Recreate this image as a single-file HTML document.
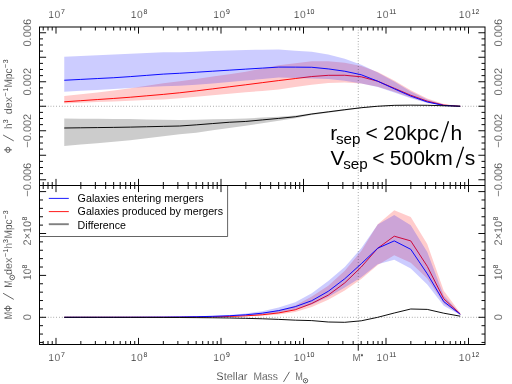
<!DOCTYPE html>
<html><head><meta charset="utf-8"><title>Merger mass functions</title>
<style>html,body{margin:0;padding:0;background:#fff;width:512px;height:384px;overflow:hidden}</style>
</head><body>
<svg width="512" height="384" viewBox="0 0 512 384" style="display:block;will-change:transform;font-family:'Liberation Sans',sans-serif">
<polygon points="64.25,96.00 80.75,94.19 97.25,92.39 113.75,90.58 130.25,88.32 146.75,85.78 163.25,83.23 179.75,81.18 196.25,79.03 212.75,76.60 229.25,74.17 245.75,71.66 262.25,68.45 278.75,65.24 295.25,63.19 311.75,61.24 328.25,61.20 344.75,62.77 361.25,66.12 377.75,72.10 394.25,80.54 410.75,90.36 427.25,98.57 443.75,104.09 460.25,106.30 460.25,106.30 443.75,105.61 427.25,102.48 410.75,97.53 394.25,91.80 377.75,86.74 361.25,83.58 344.75,82.52 328.25,82.97 311.75,84.69 295.25,87.09 278.75,89.41 262.25,90.88 245.75,92.34 229.25,93.79 212.75,95.23 196.25,96.68 179.75,98.18 163.25,99.48 146.75,100.12 130.25,100.76 113.75,101.43 97.25,102.12 80.75,102.81 64.25,103.50" fill="#ff0000" fill-opacity="0.2"/>
<polyline points="64.25,101.80 80.75,100.68 97.25,99.56 113.75,98.44 130.25,97.22 146.75,95.81 163.25,94.40 179.75,92.77 196.25,90.88 212.75,88.85 229.25,86.82 245.75,84.78 262.25,82.67 278.75,80.56 295.25,78.55 311.75,76.54 328.25,75.32 344.75,75.28 361.25,76.81 377.75,81.24 394.25,88.22 410.75,95.26 427.25,101.17 443.75,105.11 460.25,106.30" fill="none" stroke="#ff0000" stroke-width="0.95" stroke-linejoin="round"/>
<polygon points="64.25,56.75 80.75,56.01 97.25,55.27 113.75,54.53 130.25,53.77 146.75,53.00 163.25,52.22 179.75,52.29 196.25,51.72 212.75,51.12 229.25,50.53 245.75,49.98 262.25,49.75 278.75,49.52 295.25,50.63 311.75,51.85 328.25,54.61 344.75,58.86 361.25,64.72 377.75,72.54 394.25,81.45 410.75,91.44 427.25,99.50 443.75,104.55 460.25,106.30 460.25,106.30 443.75,105.81 427.25,103.04 410.75,98.30 394.25,92.44 377.75,87.07 361.25,83.55 344.75,80.73 328.25,79.02 311.75,78.44 295.25,77.95 278.75,77.61 262.25,79.10 245.75,80.59 229.25,82.00 212.75,83.40 196.25,84.80 179.75,85.67 163.25,86.17 146.75,87.10 130.25,88.02 113.75,88.95 97.25,89.89 80.75,90.82 64.25,91.75" fill="#0000ff" fill-opacity="0.2"/>
<polyline points="64.25,80.25 80.75,79.41 97.25,78.56 113.75,77.72 130.25,76.62 146.75,75.37 163.25,74.11 179.75,73.26 196.25,72.23 212.75,71.20 229.25,70.17 245.75,69.14 262.25,68.11 278.75,67.08 295.25,67.14 311.75,67.28 328.25,68.90 344.75,71.24 361.25,74.75 377.75,81.21 394.25,88.80 410.75,96.10 427.25,101.95 443.75,105.48 460.25,106.30" fill="none" stroke="#0000ff" stroke-width="0.95" stroke-linejoin="round"/>
<polygon points="64.25,118.50 80.75,118.64 97.25,118.78 113.75,118.91 130.25,119.11 146.75,119.41 163.25,119.70 179.75,120.00 196.25,119.71 212.75,119.33 229.25,118.94 245.75,118.50 262.25,117.58 278.75,116.65 295.25,115.62 311.75,113.33 328.25,111.29 344.75,109.24 361.25,107.34 377.75,106.02 394.25,105.14 410.75,105.00 427.25,105.22 443.75,105.71 460.25,106.20 460.25,106.20 443.75,105.83 427.25,105.46 410.75,105.38 394.25,105.64 377.75,106.52 361.25,108.18 344.75,110.38 328.25,112.72 311.75,115.07 295.25,118.15 278.75,120.72 262.25,123.23 245.75,125.73 229.25,128.05 212.75,130.35 196.25,132.65 179.75,134.23 163.25,136.23 146.75,138.24 130.25,140.24 113.75,141.86 97.25,143.24 80.75,144.62 64.25,146.00" fill="#000000" fill-opacity="0.2"/>
<polyline points="64.25,128.00 80.75,127.79 97.25,127.59 113.75,127.38 130.25,127.11 146.75,126.74 163.25,126.37 179.75,126.01 196.25,124.85 212.75,123.56 229.25,122.26 245.75,121.44 262.25,119.92 278.75,118.40 295.25,116.78 311.75,114.01 328.25,111.87 344.75,109.72 361.25,107.71 377.75,106.22 394.25,105.34 410.75,105.14 427.25,105.29 443.75,105.74 460.25,106.20" fill="none" stroke="#000000" stroke-width="0.95" stroke-linejoin="round"/>
<polygon points="64.25,317.30 80.75,317.29 97.25,317.29 113.75,317.27 130.25,317.25 146.75,317.21 163.25,317.14 179.75,317.03 196.25,316.83 212.75,316.49 229.25,315.92 245.75,314.94 262.25,313.21 278.75,310.27 295.25,305.60 311.75,296.50 328.25,285.70 344.75,270.70 361.25,251.00 377.75,224.20 394.25,210.30 410.75,216.90 427.25,244.00 443.75,290.70 460.25,313.00 460.25,314.80 443.75,303.50 427.25,278.50 410.75,262.80 394.25,255.30 377.75,265.00 361.25,279.10 344.75,290.40 328.25,299.75 311.75,306.90 295.25,312.09 278.75,314.41 262.25,315.64 245.75,316.35 229.25,316.76 212.75,317.00 196.25,317.14 179.75,317.21 163.25,317.25 146.75,317.27 130.25,317.29 113.75,317.29 97.25,317.30 80.75,317.30 64.25,317.30" fill="#ff0000" fill-opacity="0.2"/>
<polyline points="64.25,317.30 80.75,317.30 97.25,317.29 113.75,317.29 130.25,317.28 146.75,317.26 163.25,317.22 179.75,317.15 196.25,317.04 212.75,316.83 229.25,316.46 245.75,315.83 262.25,314.75 278.75,312.90 295.25,309.77 311.75,303.50 328.25,295.10 344.75,282.90 361.25,267.00 377.75,248.20 394.25,236.20 410.75,240.90 427.25,266.30 443.75,298.75 460.25,314.00" fill="none" stroke="#ff0000" stroke-width="0.95" stroke-linejoin="round"/>
<polygon points="64.25,317.28 80.75,317.27 97.25,317.24 113.75,317.21 130.25,317.16 146.75,317.07 163.25,316.93 179.75,316.72 196.25,316.37 212.75,315.80 229.25,314.90 245.75,313.46 262.25,311.19 278.75,307.57 295.25,302.19 311.75,293.20 328.25,281.00 344.75,267.00 361.25,248.20 377.75,224.60 394.25,215.00 410.75,225.30 427.25,252.00 443.75,295.50 460.25,313.50 460.25,315.00 443.75,305.70 427.25,284.50 410.75,268.50 394.25,259.80 377.75,264.30 361.25,277.25 344.75,287.60 328.25,297.00 311.75,304.50 295.25,309.61 278.75,312.39 262.25,314.36 245.75,315.55 229.25,316.26 212.75,316.68 196.25,316.93 179.75,317.08 163.25,317.16 146.75,317.22 130.25,317.25 113.75,317.27 97.25,317.28 80.75,317.29 64.25,317.29" fill="#0000ff" fill-opacity="0.2"/>
<polyline points="64.25,317.29 80.75,317.28 97.25,317.27 113.75,317.25 130.25,317.22 146.75,317.17 163.25,317.08 179.75,316.94 196.25,316.72 212.75,316.35 229.25,315.75 245.75,314.77 262.25,313.17 278.75,310.58 295.25,306.67 311.75,300.70 328.25,291.30 344.75,278.75 361.25,263.75 377.75,248.20 394.25,240.90 410.75,249.30 427.25,273.80 443.75,301.60 460.25,314.30" fill="none" stroke="#0000ff" stroke-width="0.95" stroke-linejoin="round"/>
<polyline points="64.25,317.31 80.75,317.31 97.25,317.32 113.75,317.34 130.25,317.36 146.75,317.39 163.25,317.44 179.75,317.51 196.25,317.62 212.75,317.77 229.25,317.99 245.75,318.34 262.25,318.78 278.75,319.38 295.25,320.16 311.75,320.60 328.25,322.00 344.75,322.30 361.25,320.80 377.75,317.30 394.25,313.00 410.75,309.00 427.25,309.40 443.75,313.20 460.25,316.20" fill="none" stroke="#000000" stroke-width="0.95" stroke-linejoin="round"/>
<line x1="39.5" y1="106.25" x2="485.0" y2="106.25" stroke="#000" stroke-width="0.55" stroke-dasharray="0.6 2.2"/>
<line x1="39.5" y1="317.3" x2="485.0" y2="317.3" stroke="#000" stroke-width="0.55" stroke-dasharray="0.6 2.2"/>
<line x1="358.25" y1="27.0" x2="358.25" y2="344.5" stroke="#000" stroke-width="0.55" stroke-dasharray="0.6 2.2"/>
<path d="M39.5 236.5H227.6V185.5" fill="none" stroke="#222" stroke-width="0.7"/>
<line x1="48.8" y1="198.4" x2="68.8" y2="198.4" stroke="#0000ff" stroke-width="0.9"/>
<line x1="48.8" y1="211.6" x2="68.8" y2="211.6" stroke="#ff0000" stroke-width="0.9"/>
<line x1="48.8" y1="224.2" x2="68.8" y2="224.2" stroke="#808080" stroke-width="1.9"/>
<g opacity="0.999">
<text x="77.6" y="202.2" font-size="10.9" fill="#000" textLength="126.0" lengthAdjust="spacingAndGlyphs">Galaxies entering mergers</text>
<text x="77.6" y="215.4" font-size="10.9" fill="#000" textLength="145.4" lengthAdjust="spacingAndGlyphs">Galaxies produced by mergers</text>
<text x="77.6" y="228.6" font-size="10.9" fill="#000" textLength="48.4" lengthAdjust="spacingAndGlyphs">Difference</text>
</g>
<rect x="39.5" y="27.0" width="445.50" height="317.50" fill="none" stroke="#000" stroke-width="1.0"/>
<line x1="39.5" y1="185.5" x2="485.0" y2="185.5" stroke="#000" stroke-width="1.0"/>
<path d="M43.22 27.0v3.5M43.22 182.0v7.0M43.22 344.5v-3.5M48.00 27.0v3.5M48.00 182.0v7.0M48.00 344.5v-3.5M52.23 27.0v3.5M52.23 182.0v7.0M52.23 344.5v-3.5M56.00 27.0v6.6M56.00 178.9v13.2M56.00 344.5v-6.6M80.83 27.0v3.5M80.83 182.0v7.0M80.83 344.5v-3.5M95.36 27.0v3.5M95.36 182.0v7.0M95.36 344.5v-3.5M105.67 27.0v3.5M105.67 182.0v7.0M105.67 344.5v-3.5M113.67 27.0v3.5M113.67 182.0v7.0M113.67 344.5v-3.5M120.20 27.0v3.5M120.20 182.0v7.0M120.20 344.5v-3.5M125.72 27.0v3.5M125.72 182.0v7.0M125.72 344.5v-3.5M130.50 27.0v3.5M130.50 182.0v7.0M130.50 344.5v-3.5M134.73 27.0v3.5M134.73 182.0v7.0M134.73 344.5v-3.5M138.50 27.0v6.6M138.50 178.9v13.2M138.50 344.5v-6.6M163.33 27.0v3.5M163.33 182.0v7.0M163.33 344.5v-3.5M177.86 27.0v3.5M177.86 182.0v7.0M177.86 344.5v-3.5M188.17 27.0v3.5M188.17 182.0v7.0M188.17 344.5v-3.5M196.17 27.0v3.5M196.17 182.0v7.0M196.17 344.5v-3.5M202.70 27.0v3.5M202.70 182.0v7.0M202.70 344.5v-3.5M208.22 27.0v3.5M208.22 182.0v7.0M208.22 344.5v-3.5M213.00 27.0v3.5M213.00 182.0v7.0M213.00 344.5v-3.5M217.23 27.0v3.5M217.23 182.0v7.0M217.23 344.5v-3.5M221.00 27.0v6.6M221.00 178.9v13.2M221.00 344.5v-6.6M245.83 27.0v3.5M245.83 182.0v7.0M245.83 344.5v-3.5M260.36 27.0v3.5M260.36 182.0v7.0M260.36 344.5v-3.5M270.67 27.0v3.5M270.67 182.0v7.0M270.67 344.5v-3.5M278.67 27.0v3.5M278.67 182.0v7.0M278.67 344.5v-3.5M285.20 27.0v3.5M285.20 182.0v7.0M285.20 344.5v-3.5M290.72 27.0v3.5M290.72 182.0v7.0M290.72 344.5v-3.5M295.50 27.0v3.5M295.50 182.0v7.0M295.50 344.5v-3.5M299.73 27.0v3.5M299.73 182.0v7.0M299.73 344.5v-3.5M303.50 27.0v6.6M303.50 178.9v13.2M303.50 344.5v-6.6M328.33 27.0v3.5M328.33 182.0v7.0M328.33 344.5v-3.5M342.86 27.0v3.5M342.86 182.0v7.0M342.86 344.5v-3.5M353.17 27.0v3.5M353.17 182.0v7.0M353.17 344.5v-3.5M361.17 27.0v3.5M361.17 182.0v7.0M361.17 344.5v-3.5M367.70 27.0v3.5M367.70 182.0v7.0M367.70 344.5v-3.5M373.22 27.0v3.5M373.22 182.0v7.0M373.22 344.5v-3.5M378.00 27.0v3.5M378.00 182.0v7.0M378.00 344.5v-3.5M382.23 27.0v3.5M382.23 182.0v7.0M382.23 344.5v-3.5M386.00 27.0v6.6M386.00 178.9v13.2M386.00 344.5v-6.6M410.83 27.0v3.5M410.83 182.0v7.0M410.83 344.5v-3.5M425.36 27.0v3.5M425.36 182.0v7.0M425.36 344.5v-3.5M435.67 27.0v3.5M435.67 182.0v7.0M435.67 344.5v-3.5M443.67 27.0v3.5M443.67 182.0v7.0M443.67 344.5v-3.5M450.20 27.0v3.5M450.20 182.0v7.0M450.20 344.5v-3.5M455.72 27.0v3.5M455.72 182.0v7.0M455.72 344.5v-3.5M460.50 27.0v3.5M460.50 182.0v7.0M460.50 344.5v-3.5M464.73 27.0v3.5M464.73 182.0v7.0M464.73 344.5v-3.5M468.50 27.0v6.6M468.50 178.9v13.2M468.50 344.5v-6.6M39.5 179.75h6.6M485.0 179.75h-6.6M39.5 173.62h3.5M485.0 173.62h-3.5M39.5 167.50h3.5M485.0 167.50h-3.5M39.5 161.38h3.5M485.0 161.38h-3.5M39.5 155.25h6.6M485.0 155.25h-6.6M39.5 149.12h3.5M485.0 149.12h-3.5M39.5 143.00h3.5M485.0 143.00h-3.5M39.5 136.88h3.5M485.0 136.88h-3.5M39.5 130.75h6.6M485.0 130.75h-6.6M39.5 124.62h3.5M485.0 124.62h-3.5M39.5 118.50h3.5M485.0 118.50h-3.5M39.5 112.38h3.5M485.0 112.38h-3.5M39.5 106.25h6.6M485.0 106.25h-6.6M39.5 100.12h3.5M485.0 100.12h-3.5M39.5 94.00h3.5M485.0 94.00h-3.5M39.5 87.88h3.5M485.0 87.88h-3.5M39.5 81.75h6.6M485.0 81.75h-6.6M39.5 75.62h3.5M485.0 75.62h-3.5M39.5 69.50h3.5M485.0 69.50h-3.5M39.5 63.38h3.5M485.0 63.38h-3.5M39.5 57.25h6.6M485.0 57.25h-6.6M39.5 51.12h3.5M485.0 51.12h-3.5M39.5 45.00h3.5M485.0 45.00h-3.5M39.5 38.88h3.5M485.0 38.88h-3.5M39.5 32.75h6.6M485.0 32.75h-6.6M39.5 342.44h3.5M485.0 342.44h-3.5M39.5 334.06h3.5M485.0 334.06h-3.5M39.5 325.68h3.5M485.0 325.68h-3.5M39.5 317.30h6.6M485.0 317.30h-6.6M39.5 308.92h3.5M485.0 308.92h-3.5M39.5 300.54h3.5M485.0 300.54h-3.5M39.5 292.16h3.5M485.0 292.16h-3.5M39.5 283.78h3.5M485.0 283.78h-3.5M39.5 275.40h6.6M485.0 275.40h-6.6M39.5 267.02h3.5M485.0 267.02h-3.5M39.5 258.64h3.5M485.0 258.64h-3.5M39.5 250.26h3.5M485.0 250.26h-3.5M39.5 241.88h3.5M485.0 241.88h-3.5M39.5 233.50h6.6M485.0 233.50h-6.6M39.5 225.12h3.5M485.0 225.12h-3.5M39.5 216.74h3.5M485.0 216.74h-3.5M39.5 208.36h3.5M485.0 208.36h-3.5M39.5 199.98h3.5M485.0 199.98h-3.5M39.5 191.60h6.6M485.0 191.60h-6.6M358.25 344.5v6.2" fill="none" stroke="#000" stroke-width="0.95"/>
<g opacity="0.999" stroke="#fff" stroke-width="0.18" text-rendering="geometricPrecision">
<text x="56.5" y="18.0" font-size="10.3" fill="#333" text-anchor="middle" letter-spacing="0.5">10<tspan font-size="7.0" dy="-4.0" dx="0.3" stroke="none" letter-spacing="0">7</tspan></text>
<text x="56.5" y="361.2" font-size="10.3" fill="#333" text-anchor="middle" letter-spacing="0.5">10<tspan font-size="7.0" dy="-4.0" dx="0.3" stroke="none" letter-spacing="0">7</tspan></text>
<text x="139.0" y="18.0" font-size="10.3" fill="#333" text-anchor="middle" letter-spacing="0.5">10<tspan font-size="7.0" dy="-4.0" dx="0.3" stroke="none" letter-spacing="0">8</tspan></text>
<text x="139.0" y="361.2" font-size="10.3" fill="#333" text-anchor="middle" letter-spacing="0.5">10<tspan font-size="7.0" dy="-4.0" dx="0.3" stroke="none" letter-spacing="0">8</tspan></text>
<text x="221.5" y="18.0" font-size="10.3" fill="#333" text-anchor="middle" letter-spacing="0.5">10<tspan font-size="7.0" dy="-4.0" dx="0.3" stroke="none" letter-spacing="0">9</tspan></text>
<text x="221.5" y="361.2" font-size="10.3" fill="#333" text-anchor="middle" letter-spacing="0.5">10<tspan font-size="7.0" dy="-4.0" dx="0.3" stroke="none" letter-spacing="0">9</tspan></text>
<text x="304.0" y="18.0" font-size="10.3" fill="#333" text-anchor="middle" letter-spacing="0.5">10<tspan font-size="7.0" dy="-4.0" dx="0.3" stroke="none" letter-spacing="0">10</tspan></text>
<text x="304.0" y="361.2" font-size="10.3" fill="#333" text-anchor="middle" letter-spacing="0.5">10<tspan font-size="7.0" dy="-4.0" dx="0.3" stroke="none" letter-spacing="0">10</tspan></text>
<text x="386.5" y="18.0" font-size="10.3" fill="#333" text-anchor="middle" letter-spacing="0.5">10<tspan font-size="7.0" dy="-4.0" dx="0.3" stroke="none" letter-spacing="0">11</tspan></text>
<text x="386.5" y="361.2" font-size="10.3" fill="#333" text-anchor="middle" letter-spacing="0.5">10<tspan font-size="7.0" dy="-4.0" dx="0.3" stroke="none" letter-spacing="0">11</tspan></text>
<text x="469.0" y="18.0" font-size="10.3" fill="#333" text-anchor="middle" letter-spacing="0.5">10<tspan font-size="7.0" dy="-4.0" dx="0.3" stroke="none" letter-spacing="0">12</tspan></text>
<text x="469.0" y="361.2" font-size="10.3" fill="#333" text-anchor="middle" letter-spacing="0.5">10<tspan font-size="7.0" dy="-4.0" dx="0.3" stroke="none" letter-spacing="0">12</tspan></text>
<text x="352.6" y="361.2" font-size="10.3" fill="#333" textLength="8.2" lengthAdjust="spacingAndGlyphs">M</text>
<path d="M361.9 353.9v2.6M360.8 354.55l2.2 1.3M360.8 355.85l2.2 -1.3" stroke="#333" stroke-width="0.6" fill="none"/>
<g transform="translate(30.9 32.75) rotate(-90)"><text x="0" y="0" font-size="11" fill="#333" text-anchor="middle">0.006</text></g>
<g transform="translate(30.9 81.75) rotate(-90)"><text x="0" y="0" font-size="11" fill="#333" text-anchor="middle">0.002</text></g>
<g transform="translate(30.9 130.75) rotate(-90)"><text x="0" y="0" font-size="11" fill="#333" text-anchor="middle">−0.002</text></g>
<g transform="translate(30.9 179.75) rotate(-90)"><text x="0" y="0" font-size="11" fill="#333" text-anchor="middle">−0.006</text></g>
<g transform="translate(30.9 317.30) rotate(-90)"><text x="0" y="0" font-size="11" fill="#333" text-anchor="middle">0</text></g>
<g transform="translate(30.9 279.9) rotate(-90)"><text x="0" y="0" font-size="11" fill="#333" text-anchor="start" textLength="11.2" lengthAdjust="spacingAndGlyphs">10</text><text x="11.3" y="-4.0" font-size="7.0" fill="#333" text-anchor="start" stroke="none">8</text></g>
<g transform="translate(30.9 245.4) rotate(-90)"><text x="0" y="0" font-size="11" fill="#333" text-anchor="start" textLength="24.6" lengthAdjust="spacingAndGlyphs">2×10</text><text x="24.8" y="-4.0" font-size="7.0" fill="#333" text-anchor="start" stroke="none">8</text></g>
<g transform="translate(502.1 32.75) rotate(-90)"><text x="0" y="0" font-size="11" fill="#333" text-anchor="middle">0.006</text></g>
<g transform="translate(502.1 81.75) rotate(-90)"><text x="0" y="0" font-size="11" fill="#333" text-anchor="middle">0.002</text></g>
<g transform="translate(502.1 130.75) rotate(-90)"><text x="0" y="0" font-size="11" fill="#333" text-anchor="middle">−0.002</text></g>
<g transform="translate(502.1 179.75) rotate(-90)"><text x="0" y="0" font-size="11" fill="#333" text-anchor="middle">−0.006</text></g>
<g transform="translate(502.1 317.30) rotate(-90)"><text x="0" y="0" font-size="11" fill="#333" text-anchor="middle">0</text></g>
<g transform="translate(502.1 279.9) rotate(-90)"><text x="0" y="0" font-size="11" fill="#333" text-anchor="start" textLength="11.2" lengthAdjust="spacingAndGlyphs">10</text><text x="11.3" y="-4.0" font-size="7.0" fill="#333" text-anchor="start" stroke="none">8</text></g>
<g transform="translate(502.1 245.4) rotate(-90)"><text x="0" y="0" font-size="11" fill="#333" text-anchor="start" textLength="24.6" lengthAdjust="spacingAndGlyphs">2×10</text><text x="24.8" y="-4.0" font-size="7.0" fill="#333" text-anchor="start" stroke="none">8</text></g>
<g transform="translate(11.9 153) rotate(-90)"><ellipse cx="3.15" cy="-3.95" rx="2.65" ry="2.05" fill="none" stroke="#333" stroke-width="0.75"/><line x1="3.15" y1="0" x2="3.15" y2="-7.85" stroke="#333" stroke-width="0.75"/><line x1="12.1" y1="1.85" x2="18.0" y2="-8.8" stroke="#333" stroke-width="0.75"/><text x="23.9" y="0" font-size="11" fill="#333" text-anchor="start" textLength="5.4" lengthAdjust="spacingAndGlyphs">h</text><text x="29.8" y="-4.1" font-size="7.0" fill="#333" text-anchor="start" stroke="none">3</text><text x="38.8" y="0" font-size="11" fill="#333" text-anchor="start" textLength="17.4" lengthAdjust="spacingAndGlyphs">dex</text><text x="56.6" y="-4.1" font-size="7.0" fill="#333" text-anchor="start" stroke="none">−</text><text x="61.4" y="-4.1" font-size="7.0" fill="#333" text-anchor="start" stroke="none">1</text><text x="65.4" y="0" font-size="11" fill="#333" text-anchor="start" textLength="19.2" lengthAdjust="spacingAndGlyphs">Mpc</text><text x="85.0" y="-4.1" font-size="7.0" fill="#333" text-anchor="start" stroke="none">−</text><text x="89.8" y="-4.1" font-size="7.0" fill="#333" text-anchor="start" stroke="none">3</text></g>
<g transform="translate(11.9 319) rotate(-90)"><text x="-0.2" y="0" font-size="11" fill="#333" text-anchor="start" textLength="7.4" lengthAdjust="spacingAndGlyphs">M</text><ellipse cx="10.5" cy="-3.95" rx="2.5" ry="2.05" fill="none" stroke="#333" stroke-width="0.75"/><line x1="10.5" y1="0" x2="10.5" y2="-7.85" stroke="#333" stroke-width="0.75"/><line x1="19.6" y1="1.85" x2="25.75" y2="-8.8" stroke="#333" stroke-width="0.75"/><text x="31.3" y="0" font-size="11" fill="#333" text-anchor="start" textLength="7.4" lengthAdjust="spacingAndGlyphs">M</text><circle cx="41.5" cy="0.3" r="2.35" fill="none" stroke="#333" stroke-width="0.75"/><circle cx="41.5" cy="0.3" r="0.6" fill="#333" stroke="none"/><text x="44.1" y="0" font-size="11" fill="#333" text-anchor="start" textLength="17.4" lengthAdjust="spacingAndGlyphs">dex</text><text x="61.9" y="-4.1" font-size="7.0" fill="#333" text-anchor="start" stroke="none">−</text><text x="66.5" y="-4.1" font-size="7.0" fill="#333" text-anchor="start" stroke="none">1</text><text x="70.6" y="0" font-size="11" fill="#333" text-anchor="start" textLength="5.4" lengthAdjust="spacingAndGlyphs">h</text><text x="75.9" y="-4.1" font-size="7.0" fill="#333" text-anchor="start" stroke="none">3</text><text x="80.5" y="0" font-size="11" fill="#333" text-anchor="start" textLength="19.2" lengthAdjust="spacingAndGlyphs">Mpc</text><text x="100.0" y="-4.1" font-size="7.0" fill="#333" text-anchor="start" stroke="none">−</text><text x="104.8" y="-4.1" font-size="7.0" fill="#333" text-anchor="start" stroke="none">3</text></g>
<text x="216.3" y="380.4" font-size="11" fill="#333" text-anchor="start">Stellar</text>
<text x="253.4" y="380.4" font-size="11" fill="#333" text-anchor="start" textLength="24.4" lengthAdjust="spacingAndGlyphs">Mass</text>
<line x1="283.5" y1="381.9" x2="289.5" y2="371.8" stroke="#333" stroke-width="0.75"/>
<text x="295.2" y="380.4" font-size="11" fill="#333" text-anchor="start" textLength="7.6" lengthAdjust="spacingAndGlyphs">M</text>
<circle cx="305.5" cy="380.7" r="2.2" fill="none" stroke="#333" stroke-width="0.75"/><circle cx="305.5" cy="380.7" r="0.6" fill="#333" stroke="none"/>
</g>
<g opacity="0.999">
<text y="140" font-size="21" fill="#000"><tspan x="330.2">r</tspan><tspan font-size="15.2" x="335.9" dy="3.9">sep</tspan><tspan dy="-3.9" x="365.4">&lt;</tspan><tspan x="383">20kpc</tspan><tspan x="450.4">h</tspan></text>
<text y="165.4" font-size="21" fill="#000"><tspan x="330.4">V</tspan><tspan font-size="15.2" x="343.2" dy="3.9">sep</tspan><tspan dy="-3.9" x="372.2">&lt;</tspan><tspan x="389.8">500km</tspan><tspan x="464.8">s</tspan></text>
<path d="M441.5 142.3L448.5 121.2M456.5 167.8L463.5 146.7" stroke="#000" stroke-width="1.35" fill="none"/>
</g>
</svg>
</body></html>
